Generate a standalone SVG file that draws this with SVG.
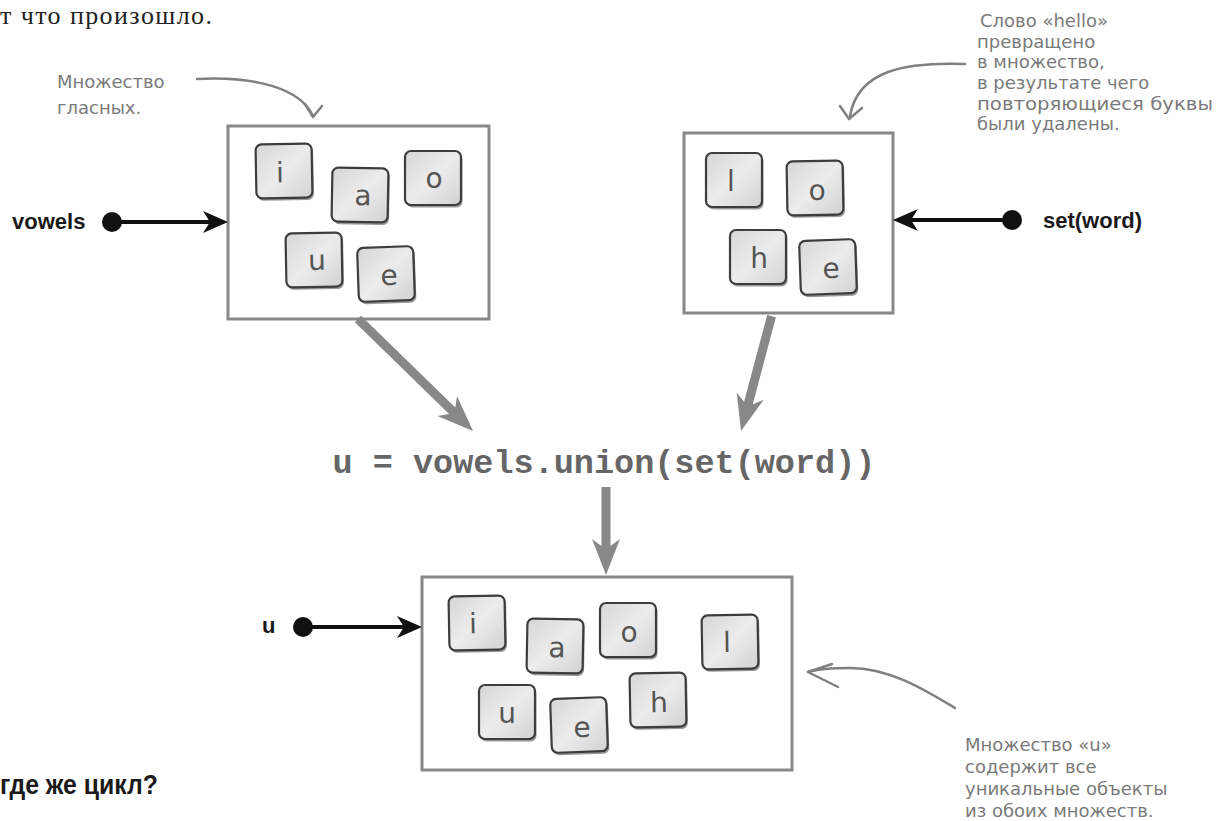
<svg xmlns="http://www.w3.org/2000/svg" xmlns:xlink="http://www.w3.org/1999/xlink" width="1224" height="821" viewBox="0 0 1224 821">
<defs>
<style>
.box{fill:#fff;stroke:#888;stroke-width:3}
.lt{font-family:"DejaVu Sans",sans-serif;font-size:28px;fill:#555;text-anchor:middle}
.note{font-family:"DejaVu Sans",sans-serif;font-size:18px;fill:#7a7a7a}
.lbl{font-family:"Liberation Sans",sans-serif;font-size:22px;font-weight:bold;fill:#1a1a1a}
.code{font-family:"Liberation Mono",monospace;font-size:33.5px;font-weight:bold;fill:#666}
.big{fill:#888}
.blk{stroke:#111;stroke-width:4;fill:none}
.hd{fill:#111}
.ann{fill:none;stroke:#808080;stroke-width:2.5;stroke-linecap:round;stroke-linejoin:round}
</style>
<linearGradient id="tg" x1="0" y1="0" x2="1" y2="1">
<stop offset="0" stop-color="#d6d6d6"/>
<stop offset="0.5" stop-color="#ececec"/>
<stop offset="1" stop-color="#d2d2d2"/>
</linearGradient>
<g id="tile">
<rect x="-26.5" y="-24.5" width="56" height="54" rx="6" fill="#444" opacity="0.55"/>
<rect x="-28" y="-27" width="56" height="54" rx="6" fill="url(#tg)" stroke="#3d3d3d" stroke-width="2.2"/>
</g>
</defs>
<rect width="1224" height="821" fill="#fff"/>

<text x="0" y="24" font-family="Liberation Serif,serif" font-size="26" fill="#222" textLength="212">т что произошло.</text>

<g id="box-vowels">
<rect class="box" x="228" y="126" width="261" height="193"/>
<g transform="translate(284,171) rotate(-1)"><use href="#tile"/><text class="lt" x="-4" y="11">i</text></g>
<g transform="translate(360,195) rotate(1)"><use href="#tile"/><text class="lt" x="3" y="10">a</text></g>
<g transform="translate(433,178)"><use href="#tile"/><text class="lt" x="1" y="10">o</text></g>
<g transform="translate(314,260) rotate(-1)"><use href="#tile"/><text class="lt" x="3" y="10">u</text></g>
<g transform="translate(386,274) rotate(-2)"><use href="#tile"/><text class="lt" x="3" y="11">e</text></g>
</g>

<g id="box-setword">
<rect class="box" x="684" y="133" width="209" height="180"/>
<g transform="translate(734,180)"><use href="#tile"/><text class="lt" x="-3" y="11">l</text></g>
<g transform="translate(815,188) rotate(-1)"><use href="#tile"/><text class="lt" x="2" y="12">o</text></g>
<g transform="translate(758,257)"><use href="#tile"/><text class="lt" x="1" y="11">h</text></g>
<g transform="translate(828,267) rotate(-2)"><use href="#tile"/><text class="lt" x="3" y="11">e</text></g>
</g>

<g id="box-u">
<rect class="box" x="422" y="577" width="370" height="193"/>
<g transform="translate(477,623) rotate(-1)"><use href="#tile"/><text class="lt" x="-4" y="10">i</text></g>
<g transform="translate(555,646) rotate(1)"><use href="#tile"/><text class="lt" x="2" y="11">a</text></g>
<g transform="translate(628,630)"><use href="#tile"/><text class="lt" x="1" y="12">o</text></g>
<g transform="translate(730,642) rotate(-1)"><use href="#tile"/><text class="lt" x="-3" y="10">l</text></g>
<g transform="translate(507,712)"><use href="#tile"/><text class="lt" x="0" y="11">u</text></g>
<g transform="translate(579,725) rotate(-2)"><use href="#tile"/><text class="lt" x="3" y="12">e</text></g>
<g transform="translate(658,700) rotate(-1)"><use href="#tile"/><text class="lt" x="1" y="12">h</text></g>
</g>

<g id="label-vowels"><text class="lbl" x="12" y="229">vowels</text></g>
<g id="label-setword"><text class="lbl" x="1043" y="228">set(word)</text></g>
<g id="label-u"><text class="lbl" x="262" y="633">u</text></g>

<g id="code"><text class="code" x="604" y="473" text-anchor="middle">u = vowels.union(set(word))</text></g>

<g id="connectors">
<circle class="hd" cx="112" cy="222" r="10"/>
<line class="blk" x1="112" y1="222" x2="212" y2="222"/>
<path class="hd" d="M228,222 L203,211 L210,222 L203,233 Z"/>

<circle class="hd" cx="1012" cy="220" r="10"/>
<line class="blk" x1="1012" y1="220" x2="908" y2="220"/>
<path class="hd" d="M893,220 L918,209 L911,220 L918,231 Z"/>

<circle class="hd" cx="303" cy="627" r="10"/>
<line class="blk" x1="303" y1="627" x2="406" y2="627"/>
<path class="hd" d="M422,627 L397,616 L404,627 L397,638 Z"/>

<polygon class="big" points="354.9,322.2 449.1,414 437.4,415.9 473,431 457,395.9 455.3,407.6 361.1,315.8"/>
<polygon class="big" points="767.2,314.9 744.1,401.8 736.7,392.6 741,431 763.7,399.8 752.8,404.2 775.9,317.2"/>
<polygon class="big" points="601.5,487 601.5,546 592,539 606,575 620,539 610.5,546 610.5,487"/>

<path class="ann" d="M197,79 C255,76 300,88 313,116"/>
<path class="ann" d="M305,104 L313,117 L322,106"/>

<path class="ann" d="M965,64 C905,62 858,70 850,116"/>
<path class="ann" d="M840,106 L849,119 L862,108"/>

<path class="ann" d="M955,708 C925,690 890,668 850,668 C830,668 815,670 808,672"/>
<path class="ann" d="M832,664 L808,672 L838,687"/>
</g>

<g id="note-vowels">
<text class="note" x="57" y="88">Множество</text>
<text class="note" x="57" y="114">гласных.</text>
</g>

<g id="note-setword">
<text class="note" x="980" y="27">Слово «hello»</text>
<text class="note" x="977" y="48">превращено</text>
<text class="note" x="977" y="68">в множество,</text>
<text class="note" x="977" y="89">в результате чего</text>
<text class="note" x="977" y="110" textLength="236" lengthAdjust="spacingAndGlyphs">повторяющиеся буквы</text>
<text class="note" x="977" y="130">были удалены.</text>
</g>

<g id="note-u">
<text class="note" x="965" y="751">Множество «u»</text>
<text class="note" x="965" y="773">содержит все</text>
<text class="note" x="965" y="795">уникальные объекты</text>
<text class="note" x="965" y="817">из обоих множеств.</text>
</g>

<text x="0" y="794" font-family="Liberation Sans,sans-serif" font-size="28" font-weight="bold" fill="#1a1a1a" textLength="158" lengthAdjust="spacingAndGlyphs">где же цикл?</text>
</svg>
